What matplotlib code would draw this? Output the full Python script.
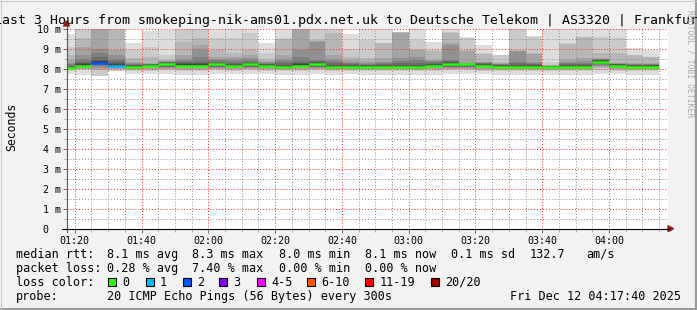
import matplotlib
matplotlib.use("Agg")
import matplotlib.pyplot as plt
import numpy as np
import pandas as pd
from matplotlib.patches import Rectangle, Polygon
from matplotlib.lines import Line2D
from matplotlib.transforms import Affine2D
from matplotlib.ticker import FixedLocator, FuncFormatter

W, H = 697, 310
MONO = "DejaVu Sans Mono"

# 5 minute slots, each holds the 20 sorted ping times (ms), None = lost ping
slot_start = pd.date_range("2025-12-12 01:15", periods=36, freq="5min")
median_ms = [8.03, 8.15, 8.30, 8.15, 8.10, 8.15, 8.22, 8.15, 8.15, 8.22, 8.15, 8.22,
             8.15, 8.10, 8.15, 8.22, 8.10, 8.10, 8.10, 8.10, 8.10, 8.10, 8.15, 8.22,
             8.22, 8.15, 8.10, 8.10, 8.10, 8.10, 8.10, 8.10, 8.35, 8.15, 8.10, 8.10]
lost_pings = [0, 0, 2, 1, 0, 0, 0, 0, 0, 0, 0, 0, 0, 0, 0, 0, 0, 0,
              0, 0, 0, 0, 0, 0, 0, 0, 0, 0, 0, 0, 0, 0, 0, 0, 0, 0]
pings_ms = [
    [7.75, 7.90, 7.95, 7.97, 7.99, 8.00, 8.01, 8.02, 8.03, 8.03, 8.04, 8.06, 8.10, 8.15, 8.22, 8.30, 8.45, 8.70, 9.10, 9.75],
    [7.69, 7.93, 7.97, 8.00, 8.03, 8.06, 8.09, 8.11, 8.13, 8.15, 8.17, 8.22, 8.28, 8.35, 8.50, 8.68, 9.10, 9.52, 10.5, 11.0],
    [None, 7.66, 7.92, 7.98, 8.05, 8.12, 8.18, 8.22, 8.26, 8.28, 8.32, 8.38, 8.45, 8.60, 8.77, 9.00, 10.4, 10.6, 11.0, None],
    [7.70, 7.90, 7.97, 8.00, 8.03, 8.06, 8.09, 8.11, 8.13, 8.14, 8.16, 8.22, 8.30, 8.38, 8.50, 8.70, 8.93, 10.8, 11.0, None],
    [7.72, 7.90, 7.95, 7.98, 8.00, 8.02, 8.04, 8.06, 8.08, 8.10, 8.11, 8.14, 8.17, 8.20, 8.23, 8.27, 8.35, 8.52, 8.93, 9.27],
    [7.72, 7.90, 7.96, 8.00, 8.03, 8.06, 8.08, 8.10, 8.12, 8.14, 8.16, 8.18, 8.20, 8.22, 8.24, 8.25, 8.27, 8.60, 9.10, 9.90],
    [7.74, 7.92, 7.97, 8.01, 8.05, 8.08, 8.11, 8.14, 8.17, 8.20, 8.23, 8.26, 8.29, 8.31, 8.34, 8.37, 8.40, 8.43, 8.68, 9.95],
    [7.70, 7.90, 7.96, 8.00, 8.03, 8.06, 8.09, 8.11, 8.13, 8.15, 8.17, 8.22, 8.28, 8.35, 8.40, 8.50, 8.68, 9.35, 10.5, 11.0],
    [7.70, 7.90, 7.96, 8.00, 8.03, 8.06, 8.09, 8.11, 8.13, 8.15, 8.17, 8.22, 8.28, 8.35, 8.60, 8.93, 9.20, 9.52, 10.5, 11.0],
    [7.74, 7.92, 7.97, 8.01, 8.05, 8.08, 8.11, 8.14, 8.17, 8.20, 8.23, 8.26, 8.30, 8.35, 8.42, 8.50, 8.60, 8.93, 9.52, 10.5],
    [7.72, 7.90, 7.96, 8.00, 8.03, 8.06, 8.09, 8.11, 8.13, 8.15, 8.17, 8.20, 8.24, 8.30, 8.38, 8.48, 8.60, 8.77, 9.52, 10.5],
    [7.74, 7.92, 7.97, 8.01, 8.05, 8.08, 8.11, 8.14, 8.17, 8.20, 8.23, 8.26, 8.30, 8.36, 8.44, 8.55, 8.70, 8.93, 9.77, 10.5],
    [7.72, 7.90, 7.96, 8.00, 8.03, 8.06, 8.09, 8.11, 8.13, 8.15, 8.17, 8.19, 8.22, 8.25, 8.28, 8.32, 8.38, 8.50, 8.77, 9.30],
    [7.70, 7.88, 7.94, 7.98, 8.01, 8.04, 8.06, 8.08, 8.09, 8.10, 8.11, 8.15, 8.20, 8.28, 8.38, 8.50, 8.68, 9.50, 9.55, 10.5],
    [7.70, 7.90, 7.96, 8.00, 8.03, 8.06, 8.09, 8.11, 8.13, 8.15, 8.17, 8.22, 8.28, 8.35, 8.60, 8.93, 10.2, 10.5, 10.8, 11.0],
    [7.74, 7.92, 7.97, 8.01, 8.05, 8.08, 8.11, 8.14, 8.17, 8.20, 8.23, 8.28, 8.33, 8.38, 8.43, 9.35, 9.40, 9.43, 10.5, 11.0],
    [7.70, 7.88, 7.94, 7.98, 8.01, 8.04, 8.06, 8.08, 8.09, 8.10, 8.11, 8.15, 8.20, 8.28, 8.38, 8.50, 8.68, 9.77, 10.5, 11.0],
    [7.72, 7.90, 7.95, 7.98, 8.00, 8.02, 8.04, 8.06, 8.08, 8.10, 8.11, 8.14, 8.18, 8.22, 8.28, 8.35, 8.45, 8.60, 9.00, 9.75],
    [7.70, 7.88, 7.94, 7.98, 8.01, 8.04, 8.06, 8.08, 8.09, 8.10, 8.11, 8.14, 8.17, 8.20, 8.23, 8.27, 8.40, 8.52, 9.43, 10.5],
    [7.70, 7.88, 7.94, 7.98, 8.01, 8.04, 8.06, 8.08, 8.09, 8.10, 8.11, 8.14, 8.18, 8.22, 8.28, 8.35, 8.52, 9.27, 9.30, 10.5],
    [7.70, 7.88, 7.94, 7.98, 8.01, 8.04, 8.06, 8.08, 8.09, 8.10, 8.11, 8.15, 8.20, 8.27, 8.40, 8.52, 9.80, 9.82, 9.84, 9.86],
    [7.70, 7.88, 7.94, 7.98, 8.01, 8.04, 8.06, 8.08, 8.09, 8.10, 8.11, 8.15, 8.20, 8.27, 8.43, 8.60, 8.92, 8.93, 9.43, 10.5],
    [7.70, 7.90, 7.96, 8.00, 8.03, 8.06, 8.09, 8.11, 8.13, 8.15, 8.17, 8.20, 8.24, 8.30, 8.36, 8.40, 8.43, 8.90, 8.93, 9.35],
    [7.74, 7.92, 7.97, 8.01, 8.05, 8.08, 8.11, 8.14, 8.17, 8.20, 8.24, 8.28, 8.33, 8.38, 8.43, 9.20, 9.27, 9.80, 9.85, 10.5],
    [7.74, 7.92, 7.97, 8.01, 8.05, 8.08, 8.11, 8.14, 8.17, 8.20, 8.22, 8.23, 8.24, 8.25, 8.26, 8.27, 8.90, 8.93, 9.55, 9.57],
    [7.72, 7.90, 7.96, 8.00, 8.03, 8.06, 8.09, 8.11, 8.13, 8.15, 8.17, 8.20, 8.23, 8.26, 8.30, 8.33, 8.35, 8.75, 8.77, 9.20],
    [7.70, 7.88, 7.94, 7.98, 8.01, 8.04, 8.06, 8.08, 8.09, 8.10, 8.11, 8.14, 8.17, 8.20, 8.23, 8.26, 8.30, 8.35, 8.66, 8.68],
    [7.70, 7.88, 7.94, 7.98, 8.01, 8.04, 8.06, 8.08, 8.09, 8.10, 8.11, 8.15, 8.20, 8.28, 8.35, 8.88, 8.90, 8.93, 10.5, 11.0],
    [7.70, 7.88, 7.94, 7.98, 8.01, 8.04, 8.06, 8.08, 8.09, 8.10, 8.11, 8.14, 8.18, 8.22, 8.28, 8.35, 8.75, 8.77, 9.60, 9.63],
    [7.70, 7.88, 7.94, 7.98, 8.01, 8.04, 8.06, 8.08, 8.09, 8.10, 8.11, 8.12, 8.13, 8.14, 8.15, 8.16, 8.18, 8.20, 8.35, 10.5],
    [7.70, 7.88, 7.94, 7.98, 8.01, 8.04, 8.06, 8.08, 8.09, 8.10, 8.11, 8.14, 8.17, 8.21, 8.26, 8.33, 8.43, 9.25, 9.27, 10.5],
    [7.70, 7.88, 7.94, 7.98, 8.01, 8.04, 8.06, 8.08, 8.09, 8.10, 8.11, 8.14, 8.18, 8.23, 8.30, 8.40, 8.52, 9.58, 9.60, 10.5],
    [7.72, 7.95, 8.02, 8.08, 8.13, 8.18, 8.22, 8.26, 8.30, 8.33, 8.37, 8.40, 8.43, 8.45, 8.48, 8.50, 8.55, 8.77, 9.60, 10.5],
    [7.72, 7.90, 7.96, 8.00, 8.03, 8.06, 8.09, 8.11, 8.13, 8.15, 8.17, 8.19, 8.21, 8.23, 8.25, 8.26, 8.27, 8.77, 9.52, 10.5],
    [7.70, 7.88, 7.94, 7.98, 8.01, 8.04, 8.06, 8.08, 8.09, 8.10, 8.11, 8.14, 8.17, 8.20, 8.23, 8.25, 8.27, 8.66, 8.68, 9.02],
    [7.70, 7.88, 7.94, 7.98, 8.01, 8.04, 8.06, 8.08, 8.09, 8.10, 8.11, 8.14, 8.17, 8.20, 8.23, 8.25, 8.27, 8.58, 8.60, 8.93],
]

loss_labels = ["0", "1", "2", "3", "4-5", "6-10", "11-19", "20/20"]
loss_max = [0, 1, 2, 3, 5, 10, 19, 20]
loss_colors = ["#26ff00", "#00b8ff", "#0059ff", "#7e00ff", "#ff00ff", "#ff5500", "#ff0000", "#a10000"]

title = "Last 3 Hours from smokeping-nik-ams01.pdx.net.uk to Deutsche Telekom | AS3320 | Frankfurt"
ytick_labels = ["0  ", "1 m", "2 m", "3 m", "4 m", "5 m", "6 m", "7 m", "8 m", "9 m", "10 m"]
rtt_row = ["median rtt:", "8.1 ms avg", "8.3 ms max", "8.0 ms min", "8.1 ms now", "0.1 ms sd", "132.7", "am/s"]
rtt_x = [16, 107, 192.5, 279, 365, 451, 530, 586]
loss_row = ["packet loss:", "0.28 % avg", "7.40 % max", "0.00 % min", "0.00 % now"]
loss_row_x = [16, 107, 192.5, 279, 365]
swatch_x = [108, 145.5, 182.5, 219, 256.5, 307, 365, 431]
probe_text = "20 ICMP Echo Pings (56 Bytes) every 300s"
stamp_text = "Fri Dec 12 04:17:40 2025"

fig = plt.figure(figsize=(W / 100, H / 100), dpi=100, facecolor="#f2f2f2")
px = Affine2D().scale(1 / W, -1 / H).translate(0, 1) + fig.transFigure

x_left, x_right = 67, 668
y_top, y_bot = 28.7, 228.7
ax = fig.add_axes([x_left / W, 1 - y_bot / H, (x_right - x_left) / W, (y_bot - y_top) / H])
ax.set_facecolor("white")

t0 = np.array(slot_start.hour * 60 + slot_start.minute, dtype=float)
view_start = 1 * 60 + 17 + 40 / 60
ax.set_xlim(view_start, view_start + 180)
ax.set_ylim(0, 10)

# smoke: band k spans ping k .. ping 21-k, inner bands darker
for k in range(10):
    shade = int(190 / 10 * (10 - (k + 1))) + 50
    col = "#" + ("%02x" % shade) * 3
    xs, lo, hi = [], [], []
    for i, p in enumerate(pings_ms):
        if p[k] is None or p[19 - k] is None:
            continue
        xs.append(t0[i])
        lo.append(p[k])
        hi.append(min(p[19 - k], 10.5) - p[k])
    ax.bar(xs, hi, bottom=lo, width=5, align="edge", color=col, linewidth=0,
           antialiased=False, zorder=1)

# median line coloured by loss
for i, m in enumerate(median_ms):
    c = next(loss_colors[j] for j in range(len(loss_max)) if lost_pings[i] <= loss_max[j])
    ax.hlines(m, t0[i], t0[i] + 5, colors=c, linewidth=1.8, zorder=4)

# grid
ax.set_axisbelow(False)
ax.xaxis.set_major_locator(FixedLocator(np.arange(80, 260, 20)))
ax.xaxis.set_minor_locator(FixedLocator(np.arange(80, 260, 5)))
ax.yaxis.set_major_locator(FixedLocator(np.arange(0, 11, 1)))
ax.yaxis.set_minor_locator(FixedLocator(np.arange(0.5, 10, 1)))
ax.grid(which="minor", color=(0.55, 0.55, 0.55, 0.22), linestyle=(0, (1, 2)), linewidth=0.7)
ax.grid(which="major", color=(1, 0.15, 0.15, 0.3), linestyle=(0, (1, 2)), linewidth=0.7)
ax.xaxis.set_major_formatter(FuncFormatter(lambda v, _: "%02d:%02d" % (int(v) // 60, int(v) % 60)))
ax.set_yticklabels(ytick_labels)
ax.tick_params(which="major", length=3, width=0.7, color="#666666", labelsize=7.2, pad=1.5)
ax.tick_params(which="minor", length=2, width=0.7, color="#aaaaaa")
ax.tick_params(axis="x", which="major", pad=2)
for lab in ax.get_xticklabels() + ax.get_yticklabels():
    lab.set_fontfamily(MONO)
for s in ax.spines.values():
    s.set_visible(False)

# axis lines and arrows
fig.add_artist(Line2D([62, 669], [y_bot, y_bot], color="black", linewidth=0.8, transform=px))
fig.add_artist(Line2D([x_left - 0.5, x_left - 0.5], [232, 25], color="#555555", linewidth=0.8, transform=px))
fig.add_artist(Polygon([[668, y_bot - 3], [673.5, y_bot], [668, y_bot + 3]], closed=True,
                       color="#8b1d1d", transform=px))
fig.add_artist(Polygon([[x_left - 3.5, 26], [x_left - 0.5, 21], [x_left + 2.5, 26]], closed=True,
                       color="#8b1d1d", transform=px))

# titles
fig.text(349.5, 24, title, transform=px, fontsize=9.55, fontfamily=MONO, ha="center", va="baseline")
fig.text(12, 127, "Seconds", transform=px, fontsize=8.3, fontfamily=MONO, rotation=90,
         ha="center", va="center")
fig.text(690, 10, "RRDTOOL / TOBI OETIKER", transform=px, fontsize=5.8, fontfamily=MONO,
         rotation=270, ha="center", va="top", color="#a8a8a8")

# legend rows
fs = 8.5
for s, x in zip(rtt_row, rtt_x):
    fig.text(x, 257.7, s, transform=px, fontsize=fs, fontfamily=MONO, va="baseline")
for s, x in zip(loss_row, loss_row_x):
    fig.text(x, 271.8, s, transform=px, fontsize=fs, fontfamily=MONO, va="baseline")
fig.text(16, 285.9, "loss color:", transform=px, fontsize=fs, fontfamily=MONO, va="baseline")
for lab, c, x in zip(loss_labels, loss_colors, swatch_x):
    fig.add_artist(Rectangle((x, 277.5), 8, 8, facecolor=c, edgecolor="black", linewidth=0.8,
                             transform=px))
    fig.text(x + 14.5, 285.9, lab, transform=px, fontsize=fs, fontfamily=MONO, va="baseline")
fig.text(16, 300, "probe:", transform=px, fontsize=fs, fontfamily=MONO, va="baseline")
fig.text(107, 300, probe_text, transform=px, fontsize=fs, fontfamily=MONO, va="baseline")
fig.text(681, 300, stamp_text, transform=px, fontsize=fs, fontfamily=MONO, va="baseline", ha="right")

# frame shading
fig.add_artist(Line2D([0, W], [309, 309], color="#9a9a9a", linewidth=1.5, transform=px))
fig.add_artist(Line2D([696, 696], [0, H], color="#9a9a9a", linewidth=1.5, transform=px))
fig.add_artist(Line2D([0, W], [0.5, 0.5], color="#cbcbcb", linewidth=0.8, transform=px))
fig.add_artist(Line2D([0.5, 0.5], [0, H], color="#cbcbcb", linewidth=0.8, transform=px))

fig.savefig("out.png", dpi=100, facecolor=fig.get_facecolor())
